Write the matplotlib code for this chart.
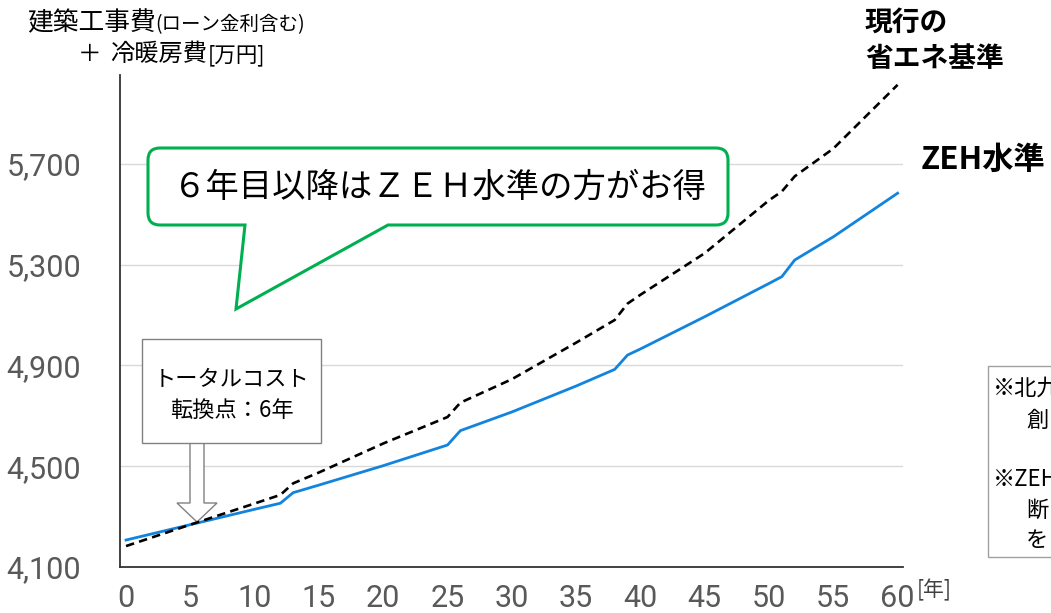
import matplotlib

matplotlib.use("Agg")
import matplotlib.pyplot as plt
from matplotlib.patches import PathPatch, Polygon, Rectangle
from matplotlib.path import Path

plt.rcParams["font.family"] = ["Noto Sans CJK JP", "DejaVu Sans"]

# 経過年数と累計コスト[万円]
years = [0, 5, 10, 12, 13, 15, 20, 25, 26, 30, 35, 38, 39, 40, 45, 50, 51, 52, 55, 60]
zeh_cost = [4207, 4268, 4329, 4353, 4395, 4425, 4502, 4584, 4641, 4715,
            4818, 4884, 4941, 4965, 5093, 5225, 5252, 5318, 5410, 5583]
current_cost = [4183, 4268, 4352, 4386, 4432, 4475, 4590, 4695, 4752, 4845,
                4990, 5080, 5145, 5180, 5345, 5555, 5590, 5650, 5760, 6013]

y_ticks = [4100, 4500, 4900, 5300, 5700]
y_tick_labels = ["4,100", "4,500", "4,900", "5,300", "5,700"]
x_ticks = list(range(0, 61, 5))

W, H = 1051, 613
fig = plt.figure(figsize=(W / 100, H / 100), dpi=100)


def px(x, y):
    return (x / W, 1 - y / H)


ax = fig.add_axes([120 / W, 1 - 567 / H, (903 - 120) / W, (567 - 75) / H])
ax.set_xlim(-0.47, 60.42)
ax.set_ylim(4100, 6052)

ax.plot(years, zeh_cost, color="#1284DE", lw=2.0, zorder=3, solid_joinstyle="round")
ax.plot(years, current_cost, color="black", lw=1.9, ls=(0, (3.2, 2.0)), zorder=3)

ax.set_yticks(y_ticks)
ax.set_yticklabels(y_tick_labels)
ax.set_xticks(x_ticks)
ax.yaxis.grid(True, color="#d9d9d9", lw=1.0, zorder=0)
ax.set_axisbelow(True)
for side in ["top", "right"]:
    ax.spines[side].set_visible(False)
for side in ["left", "bottom"]:
    ax.spines[side].set_color("#333333")
    ax.spines[side].set_linewidth(1.3)
ax.tick_params(axis="both", length=0, colors="#595959")
ax.tick_params(axis="y", pad=28)
ax.tick_params(axis="x", pad=12)
for lab in ax.get_xticklabels() + ax.get_yticklabels():
    lab.set_fontfamily(["Roboto", "DejaVu Sans"])
    lab.set_fontsize(22)

# 軸タイトル
fig.text(*px(27, 30), "建築工事費", fontsize=18.5, va="baseline", ha="left")
fig.text(*px(155, 30), "(ローン金利含む)", fontsize=14, va="baseline", ha="left")
fig.text(*px(78, 61), "＋", fontsize=17, va="baseline", ha="left")
fig.text(*px(110, 61), "冷暖房費", fontsize=17.5, va="baseline", ha="left")
fig.text(*px(208, 61), "[万円]", fontsize=15.5, va="baseline", ha="left")
fig.text(*px(917, 590), "[年]", fontsize=15, va="center", ha="left", color="#404040")

# 系列ラベル
fig.text(*px(865, 23), "現行の", fontsize=20, fontweight="bold", va="center", ha="left")
fig.text(*px(865, 59), "省エネ基準", fontsize=20, fontweight="bold", va="center", ha="left")
fig.text(*px(921, 160), "ZEH水準", fontsize=22.5, fontweight="bold", va="center", ha="left")

# 吹き出し
L, R, T, B, r = 148, 728, 148, 225, 12
pts = [(L + r, T), (R - r, T), (R, T), (R, T + r), (R, B - r), (R, B), (R - r, B),
       (388, B), (236, 309), (245, B), (L + r, B), (L, B), (L, B - r), (L, T + r),
       (L, T), (L + r, T), (L + r, T)]
codes = [Path.MOVETO, Path.LINETO, Path.CURVE3, Path.CURVE3, Path.LINETO, Path.CURVE3,
         Path.CURVE3, Path.LINETO, Path.LINETO, Path.LINETO, Path.LINETO, Path.CURVE3,
         Path.CURVE3, Path.LINETO, Path.CURVE3, Path.CURVE3, Path.CLOSEPOLY]
bubble = PathPatch(Path([px(*p) for p in pts], codes), transform=fig.transFigure,
                   facecolor="white", edgecolor="#00B050", lw=2.2, zorder=5)
ax.add_patch(bubble)
ax.text(*px(440, 187), "６年目以降はＺＥＨ水準の方がお得", transform=fig.transFigure,
        fontsize=24, ha="center", va="center", zorder=6)

# 転換点の矢印と枠
arrow_pts = [(190, 443), (190, 503), (177, 503), (197, 522), (217, 503), (204, 503), (204, 443)]
ax.add_patch(Polygon([px(*p) for p in arrow_pts], closed=True, transform=fig.transFigure,
                     facecolor="white", edgecolor="#808080", lw=1.0, zorder=2))
ax.add_patch(Rectangle(px(142, 443), (321 - 142) / W, (443 - 339) / H,
                       transform=fig.transFigure, facecolor="white",
                       edgecolor="#808080", lw=1.0, zorder=4))
ax.text(*px(232, 380), "トータルコスト", transform=fig.transFigure, fontsize=16,
        ha="center", va="center", zorder=6)
ax.text(*px(232, 410), "転換点：6年", transform=fig.transFigure, fontsize=16,
        ha="center", va="center", zorder=6)

# 右側の注記枠（はみ出し）
fig.patches.append(Rectangle(px(988, 557), 100 / W, (557 - 366) / H,
                             transform=fig.transFigure, facecolor="white",
                             edgecolor="#a0a0a0", lw=1.0))
note_lines = [(993, 388, "※北九"), (1026, 420, "創"), (993, 480, "※ZEH"),
              (1026, 510, "断"), (1026, 540, "を")]
for nx, ny, s in note_lines:
    fig.text(*px(nx, ny), s, fontsize=16, va="center", ha="left")

fig.savefig("out.png", dpi=100)
